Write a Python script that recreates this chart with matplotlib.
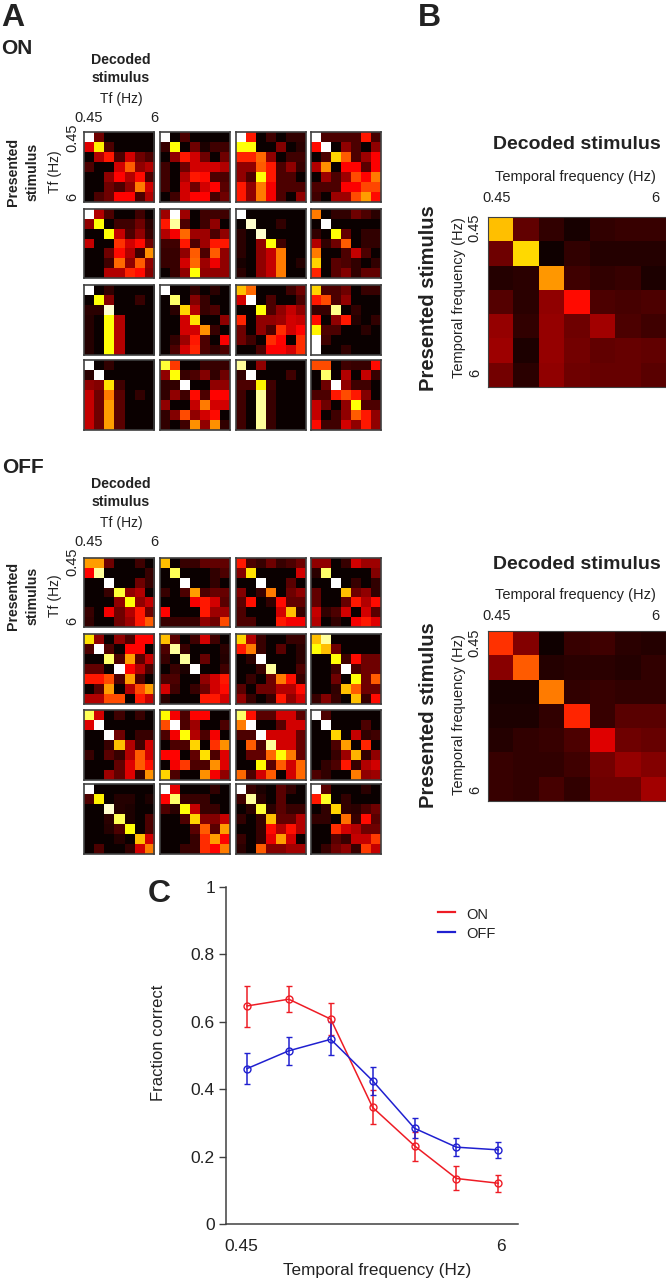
import numpy as np
import matplotlib
matplotlib.use("Agg")
import matplotlib.pyplot as plt

plt.rcParams["font.family"] = ["Liberation Sans", "DejaVu Sans"]

W, H = 666, 1280

# decoding matrices, 0 = black, 10 = white on the hot colour scale
on_panels = [
    [[10,1.5,0,0,0,0,0],[3.2,7.2,1,0,0,0,0],[0,2.5,4,1,3,1.5,1],[1,0,0,3,5,2,2.5],[0,0,2,3.7,2.5,3.8,1],[0,0,1.5,1,2,5.5,3],[0,1,1.5,3.7,3.7,1,2.5]],
    [[10,0,1,0,0,0,0],[.7,7.5,0,1.5,.3,.8,.8],[0,2,4,3,1.5,0,1.5],[.8,0,1.5,3,3,3,2.5],[.8,0,2.5,4,3.8,1,1],[.8,0,3,1.5,3,3.7,1.2],[0,.8,3,3.7,3.7,.9,1.5]],
    [[10,4,0,.8,0,.6,.6],[7.5,7.5,0,0,1.8,0,.5],[4.2,4.2,5.2,2,0,.8,.8],[2,2,5,4,1,2,.7],[2,1,7.5,4,1,1,0],[4,2,5.5,3.5,1,1,1],[4,2,5.5,3.5,1,0,2]],
    [[10,1,1,1,1,4,.9],[3.8,10,0,2,1,0,2],[0,1,6.8,5,1,2.2,3.6],[2.5,5.8,0,3.7,3.7,1.2,3.6],[0,2.2,1,2.2,4.8,3.7,5.5],[1,1,1,3.6,3.6,4.7,4.7],[.8,0,2.2,2.2,4.8,6,3.8]],
    [[10,2.5,1,0,0,.8,0],[2,7.5,0,.8,.8,1.5,.5],[0,0,7.5,2.8,1,2,.7],[2.8,0,0,4.4,3,3.8,1.5],[0,0,1.5,3.8,2.5,.8,5.8],[0,0,.8,5.2,2,5,2],[0,0,2.5,2.5,4.2,3.8,1.8]],
    [[2.2,10,2.2,0,.8,.8,.8],[4,9,1,0,.8,2,0],[2.5,3.5,5.2,2.2,2.2,1,2],[.8,.8,4,1,2.2,4,4],[.7,.7,2,5,1,5,2],[.7,.7,3,5.2,2.2,3.4,2],[0,.7,2,7.5,2,2,2]],
    [[10,0,0,0,0,0,0],[0,9.5,0,0,.6,0,0],[.5,0,9.5,0,0,0,0],[.5,0,2,7.5,.8,0,0],[.5,0,2,2.8,5.5,0,0],[.2,0,2,2.8,5.5,0,.4],[.5,0,2,2.8,5.5,0,0]],
    [[5.5,0,.6,.6,1.5,1,.5],[0,10,0,0,0,0,0],[.6,0,7.5,1.3,0,.6,.6],[2.5,.6,1.5,5,0,.6,.6],[5.5,0,0,1,2.8,1,0],[6.8,0,1.2,1,.6,0,.6],[4.2,0,1.2,1.8,.6,1.3,1.3]],
    [[10,0,.6,0,0,0,0],[0,7.5,1.8,0,0,.7,0],[.5,.5,9.5,0,0,0,0],[.4,0,7.5,2.5,0,0,0],[.4,0,7.5,2.5,0,0,0],[.4,0,7.5,2.5,0,0,0],[.4,0,7.5,2.5,0,0,0]],
    [[10,0,0,.6,0,.5,0],[0,8.5,0,1.8,.7,0,0],[0,.5,6.8,2.5,.7,1,0],[0,0,3,7,0,0,2],[0,0,3,3,5.8,.7,0],[0,.6,2.2,4,1,0,3.6],[0,1,3,4.2,1,.6,1]],
    [[6.5,5.2,0,0,0,.8,1.5],[3,10,0,1,0,0,1],[0,0,7.5,1,2,2.8,2],[4.2,0,2,2,2.2,3,2.8],[1.5,0,2,1,4.3,3,3.7],[1.5,.8,0,4.3,3.7,0,4.3],[0,0,1,3.6,3.6,3,4.3]],
    [[6.8,1,1,1.5,0,.7,.7],[4,4.8,1,2,0,0,0],[.7,.7,8.8,0,.6,0,0],[3.8,0,2,4,.4,0,.6],[7.3,1,1,0,0,.5,0],[10,.8,0,0,0,0,0],[10,0,0,.6,0,0,0]],
    [[10,0,.6,0,0,0,0],[.5,10,0,0,0,0,0],[2,1.8,7,.8,0,0,0],[2.8,1.5,5.5,1.2,0,.6,0],[2.8,1.5,6,1.2,0,0,0],[2.8,1.5,6,1.2,0,0,0],[2.8,1.5,6,1.2,0,0,0]],
    [[8,4.5,0,0,.7,.7,.7],[2,7.5,.7,1,1.8,.6,1.5],[.6,.6,10,0,0,2,2],[.6,2,.8,3.8,1,3.7,3.7],[2,0,0,2.8,5.5,3,3],[.6,1.8,4.8,2,3,3.8,0],[.6,0,.8,5.8,2,5.8,.6]],
    [[9,0,2,0,0,0,0],[.6,10,0,0,0,.8,0],[1,1,7.3,.8,0,0,0],[.8,0,9,.7,0,0,0],[.8,0,9,.7,0,0,0],[.8,0,9,.7,0,0,0],[.8,0,9,.7,0,0,0]],
    [[4.8,4.8,0,.8,.7,.7,3.8],[0,8.5,0,2.5,0,2.8,.7],[0,1.5,10,2,.8,.8,0],[1,1,4,4.8,4,1.8,0],[2.8,1.5,0,2,7.5,1,1],[2.8,0,.8,2,5,4,2],[3.8,.8,.8,3,2,4,2]],
]

off_panels = [
    [[6,6,1.5,0,0,.8,0],[3.7,9,0,0,0,0,.7],[0,0,10,0,0,1.5,.7],[0,0,.7,8,2,2.5,0],[0,0,0,2,7.5,2,2.8],[.7,0,3.5,1.5,2.5,4,1.5],[.6,0,0,1.5,2.2,4,5]],
    [[6.5,0,.7,.7,1.3,1.3,1.3],[0,8.3,0,0,0,.6,1],[0,0,10,0,0,.6,0],[.7,0,1,6,1,1.4,1.4],[0,0,0,3.5,4,3,1.2],[3.7,0,0,0,4,2.2,2.2],[.7,.7,.7,.7,2,1.5,4.8]],
    [[4,1,.7,1.5,.7,1,1.5],[1.8,7,0,0,0,0,3],[0,0,10,0,0,1.2,0],[1.8,0,.7,5.5,0,1.5,2],[1.2,3.9,0,.6,3.8,1.3,1.3],[1,0,0,0,3,6.5,.7],[1,1,0,0,4,3.5,3.5]],
    [[2,2,0,.7,3,2.2,2.2],[.5,8.5,0,0,0,0,1.8],[0,0,10,0,.7,0,.6],[1.3,0,0,6.5,1.5,2,.6],[1.3,0,0,1.4,4,2.5,3.8],[2.8,.6,1,3,0,3,1.2],[2.5,0,.6,0,3.5,4,3.2]],
    [[7,2,0,2,1,3.7,3.7],[1,10,1,0,3.7,3.7,0],[0,0,8.5,1,6,1.2,2.8],[1.3,1.3,0,10,3.7,2.5,1],[4,4,4.8,1,6,1,0],[0,1.2,6,0,2.5,4.8,6],[2.5,2.5,4.8,4.8,0,4,2.8]],
    [[6.5,1.2,0,.8,3,.8,0],[1,9,.7,0,0,0,.5],[.7,0,9,0,1.4,0,.4],[0,.7,.3,10,0,0,.8],[1,1,0,0,2,3,4],[3,.8,0,.7,1.5,3,3.8],[.5,0,0,0,4,4,3]],
    [[6.8,2.5,.7,0,0,.7,.7],[4,5.5,.7,0,1.2,0,.5],[0,.5,10,0,0,0,.5],[0,0,.7,9,0,0,1],[0,.7,0,1.5,5.5,3.9,.7],[1.2,0,1.5,1.5,2.5,2.5,3.8],[2,.7,0,.7,4,2,3]],
    [[6.5,9,0,0,0,0,0],[7.5,6.5,1.5,0,0,0,0],[0,0,7.5,.8,3.8,1.5,1.5],[0,0,.8,10,1,1.5,1.5],[0,0,1.5,0,7.5,1.5,5],[0,0,.6,6.5,5,1.5,1.5],[.7,1.8,.7,0,6.5,.7,3.8]],
    [[8.3,3,0,.8,0,.7,0],[3.2,10,0,0,0,0,0],[0,0,10,1.5,0,.7,.7],[0,0,.7,6.5,2.5,.8,3],[.7,0,1.2,.7,2.5,5,3],[0,0,0,1.3,3.2,5,3.9],[0,0,2.2,1.3,3.2,.7,5.8]],
    [[7.4,3.5,1,3.7,3.7,0,0],[4.8,10,1,2.2,0,0,1],[1,3.5,7.5,2.5,1,3.5,0],[0,1,1,6.8,0,4.4,5.8],[3.7,3.7,0,1.3,7,1,3.2],[0,3.5,4.5,1,1,5.8,3.2],[6.8,1,0,0,5.8,3.5,2]],
    [[8.5,3.9,1.2,1.2,3,3,1.2],[5.5,10,0,0,1.2,3,3],[1,1,10,3,3,3,1.4],[0,5,1,9,3,3,1.4],[0,1.3,1.3,5.2,7.5,5.5,1.4],[0,0,7.4,1.2,5,3,5.2],[5.2,1,3,5,0,3,5.2]],
    [[10,1,0,0,0,0,0],[0,10,0,0,0,1,0],[0,0,6.8,0,2.8,.6,.8],[0,0,1,6,0,4.2,0],[0,0,.7,2.2,6.3,.6,2],[0,.6,1,4,.7,2.5,3],[1,.6,0,0,5.5,2,2.2]],
    [[10,0,0,0,0,0,0],[1,7.3,0,.4,.4,0,.3],[0,0,9.5,.4,.3,0,0],[0,0,.5,8.3,.3,0,1],[0,0,.4,1,7.5,0,1],[0,0,0,.4,0,6.5,3],[0,1,0,0,.6,3,5.5]],
    [[10,3.3,0,0,0,.6,0],[3.7,8.5,.7,.7,.7,0,0],[1,.5,7.5,2.8,.7,.7,0],[0,0,1,6.8,1.8,1.8,2.8],[0,0,0,1.2,5,1.2,6],[0,0,0,.7,4.3,6,3.7],[0,0,.7,.7,4.3,3.7,5.5]],
    [[10,.7,.3,0,1.2,.6,0],[.8,9,.5,0,1.2,0,0],[0,.5,8,.5,1.2,.7,.7],[.6,0,.7,6.5,1.3,1.3,2.5],[0,0,.7,3.8,2.5,3.9,2.5],[.7,0,.7,3.3,6,3,0],[.5,0,5,1.8,1.8,2.3,2.3]],
    [[10,1.2,0,0,0,.5,0],[4,7.8,0,.6,0,0,0],[0,.6,6.8,.6,.5,1,1.5],[.6,.6,0,5.3,.7,3.8,1.2],[0,0,4.3,3,2.5,1.5,1.5],[0,0,1.2,.7,2.8,2.8,4.5],[0,.7,1.5,2,.7,4.5,2.8]],
]

on_mean = [[6.5,1.3,.6,.2,.6,.7,.7],[1.5,6.9,.1,.6,.4,.4,.4],[.4,.5,5.9,.8,.6,.7,.3],[1.1,.5,2,3.8,1,.9,1],[2.1,.6,2.1,1.5,2.3,1,.8],[2.2,.3,2.1,1.6,1.3,1.4,1.3],[1.6,.5,2,1.5,1.4,1.4,1.2]]
off_mean = [[4.4,1.8,.1,.7,.8,.5,.4],[1.9,5,.4,.5,.5,.4,.6],[.2,.2,5.5,.6,.7,.6,.6],[.3,.3,.6,4.2,.7,1.2,1.2],[.4,.6,.7,1,3.2,1.5,1.4],[.7,.6,.6,.8,1.6,2.1,1.8],[.7,.6,.9,.6,1.5,1.5,2.3]]

# panel C
stim = [0, 1, 2, 3, 4, 5, 6]
on_frac = [0.647, 0.667, 0.608, 0.346, 0.232, 0.135, 0.121]
on_low = [0.586, 0.628, 0.561, 0.297, 0.187, 0.100, 0.096]
on_high = [0.707, 0.706, 0.655, 0.397, 0.272, 0.172, 0.145]
off_frac = [0.461, 0.514, 0.548, 0.425, 0.284, 0.228, 0.220]
off_low = [0.416, 0.472, 0.502, 0.382, 0.254, 0.201, 0.197]
off_high = [0.508, 0.556, 0.598, 0.467, 0.316, 0.255, 0.243]
y_ticks = [0, 0.2, 0.4, 0.6, 0.8, 1]
y_labels = ["0", "0.2", "0.4", "0.6", "0.8", "1"]

TXT = "#222222"
SPINE = "#404040"

fig = plt.figure(figsize=(W / 100, H / 100), dpi=100)


def box(x0, y0, x1, y1):
    return fig.add_axes([x0 / W, 1 - y1 / H, (x1 - x0) / W, (y1 - y0) / H])


def txt(x, y, s, size=10, weight="normal", rot=0, **kw):
    # centre alignment leaves room for descenders, so nudge towards them
    if rot == 90:
        x += 1.5
    else:
        y += 1.5
    fig.text(x / W, 1 - y / H, s, fontsize=size, fontweight=weight, rotation=rot,
             ha="center", va="center", color=TXT, **kw)


def matrix(x0, y0, x1, y1, vals, lw=1.2):
    ax = box(x0, y0, x1, y1)
    ax.imshow(np.array(vals) / 10, cmap="hot", vmin=0, vmax=1, aspect="auto",
              interpolation="nearest")
    ax.set_xticks([])
    ax.set_yticks([])
    for s in ax.spines.values():
        s.set_linewidth(lw)
        s.set_color(SPINE)


col_x = [(84, 154), (160, 230), (236, 306), (311, 381)]
on_rows = [(132, 202), (209, 278), (285, 355), (360, 430)]
off_rows = [(558, 627), (634, 704), (710, 780), (784, 854)]

for rows, panels in [(on_rows, on_panels), (off_rows, off_panels)]:
    k = 0
    for y0, y1 in rows:
        for x0, x1 in col_x:
            matrix(x0, y0, x1, y1, panels[k])
            k += 1

matrix(488, 217, 666, 387, on_mean, lw=0.8)
matrix(488, 631, 666, 801, off_mean, lw=0.8)

# panel letters and group names
txt(13, 16, "A", 23, "bold")
txt(429, 16, "B", 23, "bold")
txt(159, 892, "C", 23, "bold")
txt(17, 47, "ON", 15, "bold")
txt(23, 466, "OFF", 15, "bold")

# labels round the small panels
for dy in [0, 424]:
    txt(121, 59 + dy, "Decoded", 10.2, "bold")
    txt(121, 76 + dy, "stimulus", 10.2, "bold")
    txt(121, 98 + dy, "Tf (Hz)", 10)
    txt(89, 117 + dy, "0.45", 10.5)
    txt(154, 117 + dy, "6", 10.5)
    txt(71, 138 + dy, "0.45", 10.5, rot=90)
    txt(71, 197 + dy, "6", 10.5, rot=90)
    txt(53, 172 + dy, "Tf (Hz)", 10, rot=90)
    txt(12, 172 + dy, "Presented", 10.2, "bold", rot=90)
    txt(31, 172 + dy, "stimulus", 10.2, "bold", rot=90)

# labels round the large panels
for title_y, tf_y, tick_y, side_y, t0, t1 in [(143, 176, 197, 298, 228, 373),
                                              (563, 594, 615, 715, 643, 790)]:
    txt(577, title_y, "Decoded stimulus", 14, "bold")
    txt(575, tf_y, "Temporal frequency (Hz)", 10.5)
    txt(497, tick_y, "0.45", 10.5)
    txt(655, tick_y, "6", 10.5)
    txt(427, side_y, "Presented stimulus", 14.5, "bold", rot=90)
    txt(458, side_y, "Temporal frequency (Hz)", 10.5, rot=90)
    txt(473, t0, "0.45", 10.5, rot=90)
    txt(474, t1, "6", 10.5, rot=90)

# panel C
ax = box(226, 887, 518, 1224)
on_err = [np.subtract(on_frac, on_low), np.subtract(on_high, on_frac)]
off_err = [np.subtract(off_frac, off_low), np.subtract(off_high, off_frac)]
ax.errorbar(stim, on_frac, yerr=on_err, color="#ee1c25", lw=1.1, elinewidth=1.1, capsize=2,
            capthick=1, marker="o", ms=5, mfc="none", mew=1, label="ON")
ax.errorbar(stim, off_frac, yerr=off_err, color="#2020d0", lw=1.1, elinewidth=1.1, capsize=2,
            capthick=1, marker="o", ms=5, mfc="none", mew=1, label="OFF")
ax.set_xlim(-0.5, 6.47)
ax.set_ylim(0, 1)
ax.set_yticks(y_ticks)
ax.set_yticklabels(y_labels, fontsize=12.5, color=TXT)
ax.set_xticks([])
ax.tick_params(axis="y", length=5, width=1, color=SPINE, pad=3)
ax.spines["top"].set_visible(False)
ax.spines["right"].set_visible(False)
for s in ["left", "bottom"]:
    ax.spines[s].set_linewidth(1.1)
    ax.spines[s].set_color(SPINE)

txt(241, 1245, "0.45", 12.5)
txt(501, 1245, "6", 12.5)
txt(377, 1269, "Temporal frequency (Hz)", 12.3)
txt(157, 1043, "Fraction correct", 12, rot=90)

# legend is placed by hand to sit where the original has it
fig.add_artist(plt.Line2D([438 / W, 455 / W], [1 - 912 / H] * 2, color="#ee1c25", lw=1.6))
fig.add_artist(plt.Line2D([438 / W, 455 / W], [1 - 932 / H] * 2, color="#2020d0", lw=1.6))
fig.text(466 / W, 1 - 915 / H, "ON", fontsize=10.5, color=TXT, ha="left", va="center")
fig.text(466 / W, 1 - 934 / H, "OFF", fontsize=10.5, color=TXT, ha="left", va="center")

fig.savefig("out.png", dpi=100, facecolor="white")
